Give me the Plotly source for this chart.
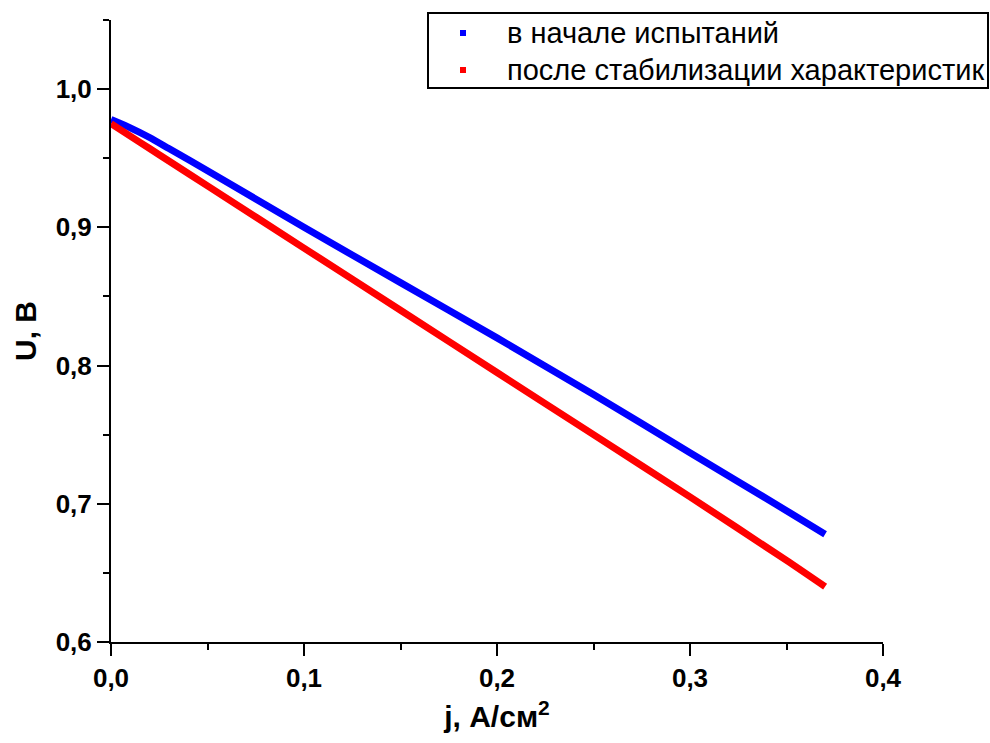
import plotly.graph_objects as go

# Current density j, A/cm^2
j_start = [0.0, 0.01, 0.02, 0.03, 0.05, 0.10, 0.15, 0.20, 0.25, 0.30, 0.35, 0.37]
u_start = [0.978, 0.972, 0.965, 0.957, 0.941, 0.900, 0.860, 0.820, 0.779, 0.737, 0.695, 0.678]

j_stab = [0.0, 0.01, 0.02, 0.03, 0.05, 0.10, 0.15, 0.20, 0.25, 0.30, 0.35, 0.37]
u_stab = [0.975, 0.966, 0.957, 0.948, 0.930, 0.885, 0.840, 0.795, 0.750, 0.705, 0.659, 0.640]

names = ["в начале испытаний", "после стабилизации характеристик"]
colors = ["#0000ff", "#ff0000"]

x_ticks = [0.0, 0.1, 0.2, 0.3, 0.4]
y_ticks = [0.6, 0.7, 0.8, 0.9, 1.0]

FONT = "Liberation Sans, Arial, sans-serif"
W, H = 990, 743
ML, MR, MT, MB = 111, 107, 20, 101
PW, PH = W - ML - MR, H - MT - MB


def px_x(p):
    return (p - ML) / PW


def px_y(p):
    return (H - MB - p) / PH


fig = go.Figure()
for xs, ys, c, n in [(j_start, u_start, colors[0], names[0]), (j_stab, u_stab, colors[1], names[1])]:
    fig.add_trace(go.Scatter(x=xs, y=ys, mode="lines", name=n,
                             line=dict(color=c, width=7, shape="spline", smoothing=0.6),
                             showlegend=False))

axis_common = dict(
    showline=True, linecolor="black", linewidth=2,
    ticks="outside", tickcolor="black", tickwidth=2, ticklen=12,
    showgrid=False, zeroline=False,
    tickfont=dict(family=FONT, size=26, color="black", weight="bold"),
)

fig.update_xaxes(range=[0, 0.4], tickvals=x_ticks,
                 ticktext=[f"{v:.1f}".replace(".", ",") for v in x_ticks],
                 minor=dict(ticks="outside", ticklen=6, tickwidth=2, tickcolor="black", dtick=0.05, tick0=0),
                 title=dict(text="j, А/см<sup>2</sup>", standoff=14,
                            font=dict(family=FONT, size=30, color="black", weight="bold")),
                 **axis_common)
fig.update_yaxes(range=[0.6, 1.05], tickvals=y_ticks,
                 ticktext=[f"{v:.1f}".replace(".", ",") for v in y_ticks],
                 minor=dict(ticks="outside", ticklen=6, tickwidth=2, tickcolor="black", dtick=0.05, tick0=0.6),
                 title=dict(text="U, В", standoff=10,
                            font=dict(family=FONT, size=30, color="black", weight="bold")),
                 **axis_common)

# Legend box drawn manually (layout only)
shapes = [dict(type="rect", xref="paper", yref="paper",
               x0=px_x(428), x1=px_x(988), y0=px_y(88), y1=px_y(13),
               line=dict(color="black", width=2), fillcolor="white", layer="above")]
annotations = []
for i, (n, c) in enumerate(zip(names, colors)):
    cy = 33 + 37 * i
    shapes.append(dict(type="rect", xref="paper", yref="paper",
                       x0=px_x(460), x1=px_x(466), y0=px_y(cy + 3), y1=px_y(cy - 3),
                       line=dict(width=0), fillcolor=c, layer="above"))
    annotations.append(dict(text=n, xref="paper", yref="paper", x=px_x(505), y=px_y(cy),
                            xanchor="left", yanchor="middle", showarrow=False,
                            font=dict(family=FONT, size=29, color="black")))

fig.update_layout(
    width=W, height=H,
    margin=dict(l=ML, r=MR, t=MT, b=MB, autoexpand=False),
    paper_bgcolor="white", plot_bgcolor="white",
    shapes=shapes, annotations=annotations,
    showlegend=False,
)

fig.write_html("out.html")
